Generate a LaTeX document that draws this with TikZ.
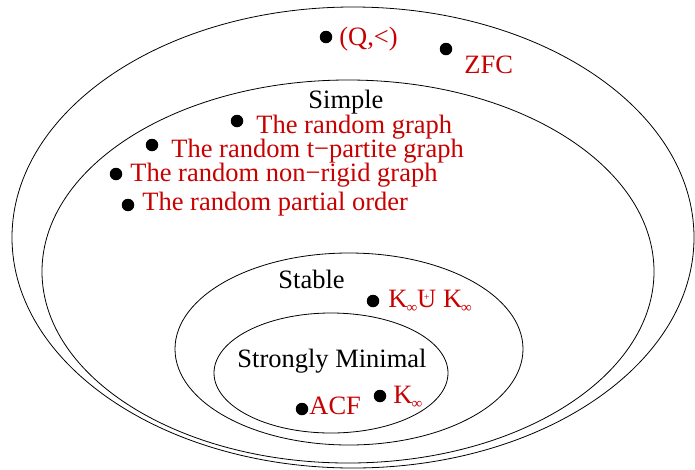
\documentclass[tikz,border=0pt]{standalone}
\usepackage{fontspec}
\setmainfont{Liberation Serif}
\usepackage{xcolor}
\definecolor{labred}{RGB}{200,0,0}
\newcommand{\Kinf}{K\kern-1pt\raisebox{-5pt}{\fontsize{15}{15}\selectfont ∞}}
\newcommand{\dunion}{\ooalign{U\cr\hidewidth\raisebox{6.5pt}{\fontsize{10}{10}\selectfont +}\hidewidth\cr}}

\begin{document}
\begin{tikzpicture}[x=1pt, y=-1pt, line width=0.8pt,
    font=\fontsize{26.5}{30}\selectfont,
    elt/.style={circle, fill=black, inner sep=0pt, minimum size=12.5pt},
    lbl/.style={anchor=base west, inner sep=0pt, text=labred},
    setname/.style={anchor=base west, inner sep=0pt}]
    \useasboundingbox (0,0) rectangle (695,469);
    % Classes of theories
    \draw (353,237.5) ellipse [x radius=341pt, y radius=230.5pt];
    \draw (348,271.5) ellipse [x radius=306pt, y radius=191.5pt];
    \draw (349,349) ellipse [x radius=174pt, y radius=96pt];
    \draw (331,373) ellipse [x radius=117pt, y radius=60pt];
    \node[setname] (simple) at (308,108) {Simple};
    \node[setname] (stable) at (278,288) {Stable};
    \node[setname] (sm) at (237,367) {Strongly Minimal};
    % Examples
    \foreach \p/\n in {(326,37)/qdot, (446,49)/zdot, (237,121)/rgdot, (152,145)/tpdot,
        (116,174)/nrdot, (128,205)/podot, (373,301)/kkdot, (380,396)/kdot, (302,409)/acfdot}
        \node[elt] (\n) at \p {};
    \node[lbl] (qlt) at (339,45) {(Q,<)};
    \node[lbl] (zfc) at (464,73) {ZFC};
    \node[lbl] (rg) at (256,133) {The random graph};
    \node[lbl] (rtp) at (171,157) {The random t−partite graph};
    \node[lbl] (rnr) at (130,181) {The random non−rigid graph};
    \node[lbl] (rpo) at (142,210) {The random partial order};
    \node[lbl] (kk) at (388,307) {\Kinf\dunion\ \Kinf};
    \node[lbl] (kinf) at (393,403) {\Kinf};
    \node[lbl] (acf) at (309,414) {ACF};
\end{tikzpicture}
\end{document}
